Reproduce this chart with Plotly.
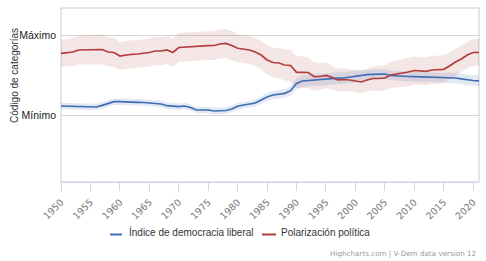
import plotly.graph_objects as go

years = list(range(1950, 2022))

# Índice de democracia liberal (scaled: 0 = Mínimo, 1 = Máximo)
demo = [0.1125, 0.109, 0.106, 0.1025, 0.100, 0.096, 0.100, 0.121, 0.144, 0.166,
        0.166, 0.166, 0.160, 0.159, 0.156, 0.1525, 0.144, 0.1375, 0.116, 0.1125,
        0.104, 0.1125, 0.094, 0.0625, 0.0625, 0.0625, 0.050, 0.050, 0.056, 0.075,
        0.109, 0.125, 0.134, 0.150, 0.1875, 0.225, 0.250, 0.2625, 0.271, 0.304,
        0.394, 0.425, 0.431, 0.4375, 0.444, 0.456, 0.459, 0.460, 0.4625, 0.475,
        0.484, 0.494, 0.504, 0.509, 0.5125, 0.5125, 0.494, 0.4875, 0.484, 0.481,
        0.479, 0.4775, 0.475, 0.471, 0.469, 0.4675, 0.465, 0.4625, 0.4525, 0.4375,
        0.431, 0.4275]
demo_ci = [0.04, 0.04, 0.04, 0.04, 0.04, 0.04, 0.04, 0.04, 0.04, 0.04,
           0.04, 0.04, 0.04, 0.04, 0.04, 0.04, 0.04, 0.04, 0.04, 0.04,
           0.04, 0.04, 0.04, 0.04, 0.04, 0.04, 0.04, 0.04, 0.04, 0.04,
           0.04, 0.04, 0.04, 0.045, 0.05, 0.05, 0.05, 0.05, 0.055, 0.06,
           0.07, 0.075, 0.075, 0.075, 0.075, 0.075, 0.075, 0.075, 0.075, 0.075,
           0.07, 0.07, 0.065, 0.065, 0.06, 0.06, 0.06, 0.06, 0.06, 0.06,
           0.06, 0.06, 0.06, 0.06, 0.06, 0.06, 0.065, 0.065, 0.065, 0.065,
           0.065, 0.065]

# Polarización política
polar = [0.769, 0.775, 0.7875, 0.8125, 0.8125, 0.8125, 0.821, 0.819, 0.7875, 0.781,
         0.7375, 0.750, 0.759, 0.7625, 0.769, 0.781, 0.800, 0.800, 0.8125, 0.781,
         0.844, 0.850, 0.856, 0.859, 0.8625, 0.866, 0.869, 0.8875, 0.894, 0.869,
         0.834, 0.825, 0.8125, 0.7875, 0.750, 0.6875, 0.656, 0.650, 0.625, 0.619,
         0.534, 0.534, 0.531, 0.479, 0.481, 0.494, 0.471, 0.4375, 0.444, 0.4375,
         0.425, 0.4125, 0.4375, 0.456, 0.456, 0.4625, 0.500, 0.5125, 0.521, 0.5375,
         0.556, 0.550, 0.546, 0.5625, 0.569, 0.571, 0.6125, 0.6625, 0.700, 0.750,
         0.781, 0.784]
polar_ci = [0.165, 0.17, 0.175, 0.18, 0.18, 0.185, 0.185, 0.185, 0.18, 0.18,
            0.175, 0.175, 0.175, 0.175, 0.175, 0.175, 0.175, 0.175, 0.175, 0.175,
            0.18, 0.18, 0.18, 0.18, 0.18, 0.18, 0.18, 0.18, 0.18, 0.18,
            0.175, 0.175, 0.175, 0.175, 0.175, 0.18, 0.185, 0.19, 0.195, 0.2,
            0.2, 0.2, 0.19, 0.18, 0.17, 0.16, 0.15, 0.145, 0.14, 0.14,
            0.14, 0.14, 0.145, 0.15, 0.155, 0.16, 0.165, 0.17, 0.17, 0.175,
            0.175, 0.175, 0.175, 0.175, 0.175, 0.175, 0.17, 0.17, 0.165, 0.165,
            0.165, 0.165]

tick_years = list(range(1950, 2021, 5))
y_tickvals = [0, 1]
y_ticktext = ["Mínimo", "Máximo"]

BLUE = "#3f6db3"
RED = "#b33c3c"
NARROW = "Liberation Sans Narrow, Arial Narrow, Liberation Sans, Arial, sans-serif"

fig = go.Figure()

def band(vals, ci, color):
    hi = [v + c for v, c in zip(vals, ci)]
    lo = [v - c for v, c in zip(vals, ci)]
    fig.add_trace(go.Scatter(x=years, y=hi, mode="lines", line=dict(width=0),
                             showlegend=False, hoverinfo="skip"))
    fig.add_trace(go.Scatter(x=years, y=lo, mode="lines", line=dict(width=0),
                             fill="tonexty", fillcolor=color,
                             showlegend=False, hoverinfo="skip"))

band(polar, polar_ci, "rgba(179,60,60,0.13)")
band(demo, demo_ci, "rgba(63,109,179,0.15)")

fig.add_trace(go.Scatter(x=years, y=demo, mode="lines", name="Índice de democracia liberal",
                         line=dict(color=BLUE, width=1.7)))
fig.add_trace(go.Scatter(x=years, y=polar, mode="lines", name="Polarización política",
                         line=dict(color=RED, width=1.7)))

L, R, T, B = 61, 7, 8, 79
W, H = 486, 261
pw, ph = W - L - R, H - T - B

def px(x):
    return (x - L) / pw

def py(y):
    return (H - B - y) / ph

shapes = [
    dict(type="rect", xref="paper", yref="paper", x0=0, x1=1, y0=0, y1=1,
         line=dict(color="#cccccc", width=1), layer="below"),
    dict(type="line", xref="paper", yref="paper", x0=px(110), x1=px(122),
         y0=py(234.5), y1=py(234.5), line=dict(color=BLUE, width=2)),
    dict(type="line", xref="paper", yref="paper", x0=px(262), x1=px(276),
         y0=py(234.5), y1=py(234.5), line=dict(color=RED, width=2)),
]

annotations = [
    dict(text="Índice de democracia liberal", xref="paper", yref="paper",
         x=px(127), y=py(232), xanchor="left", yanchor="middle", showarrow=False,
         font=dict(family=NARROW, size=10, color="#333333")),
    dict(text="Polarización política", xref="paper", yref="paper",
         x=px(279), y=py(232), xanchor="left", yanchor="middle", showarrow=False,
         font=dict(family=NARROW, size=10, color="#333333")),
    dict(text="Código de categorías", xref="paper", yref="paper",
         x=px(14), y=py(76), xanchor="center", yanchor="middle", textangle=-90,
         showarrow=False, font=dict(family=NARROW, size=10, color="#333333")),
    dict(text="Highcharts.com | V-Dem data version 12", xref="paper", yref="paper",
         x=px(478), y=py(253), xanchor="right", yanchor="middle", showarrow=False,
         font=dict(family="DejaVu Sans, Verdana, sans-serif", size=7.2, color="#999999")),
]

fig.update_layout(
    width=W, height=H,
    margin=dict(l=L, r=R, t=T, b=B, pad=0, autoexpand=False),
    paper_bgcolor="white", plot_bgcolor="white",
    showlegend=False,
    shapes=shapes, annotations=annotations,
    xaxis=dict(range=[1950, 2021], tickvals=tick_years, tickangle=-45,
               automargin=False,
               ticks="outside", ticklen=8, tickcolor="#ccd6eb", tickwidth=1,
               ticklabelstandoff=2,
               showgrid=False, zeroline=False, showline=True, linecolor="#ccd6eb",
               linewidth=1, tickfont=dict(family="DejaVu Sans, Verdana, sans-serif",
                                          size=9.5, color="#777777")),
    yaxis=dict(range=[-0.8375, 1.3375], tickvals=y_tickvals, ticktext=y_ticktext,
               automargin=False,
               showgrid=True, gridcolor="#d6d6d6", gridwidth=1, zeroline=False,
               showline=False, ticks="", ticklabelstandoff=4,
               tickfont=dict(family=NARROW, size=10.5, color="#222222")),
)

fig.write_html("out.html", config={"displayModeBar": False},
               post_script="document.body.style.margin='0';document.body.style.overflow='hidden';")
